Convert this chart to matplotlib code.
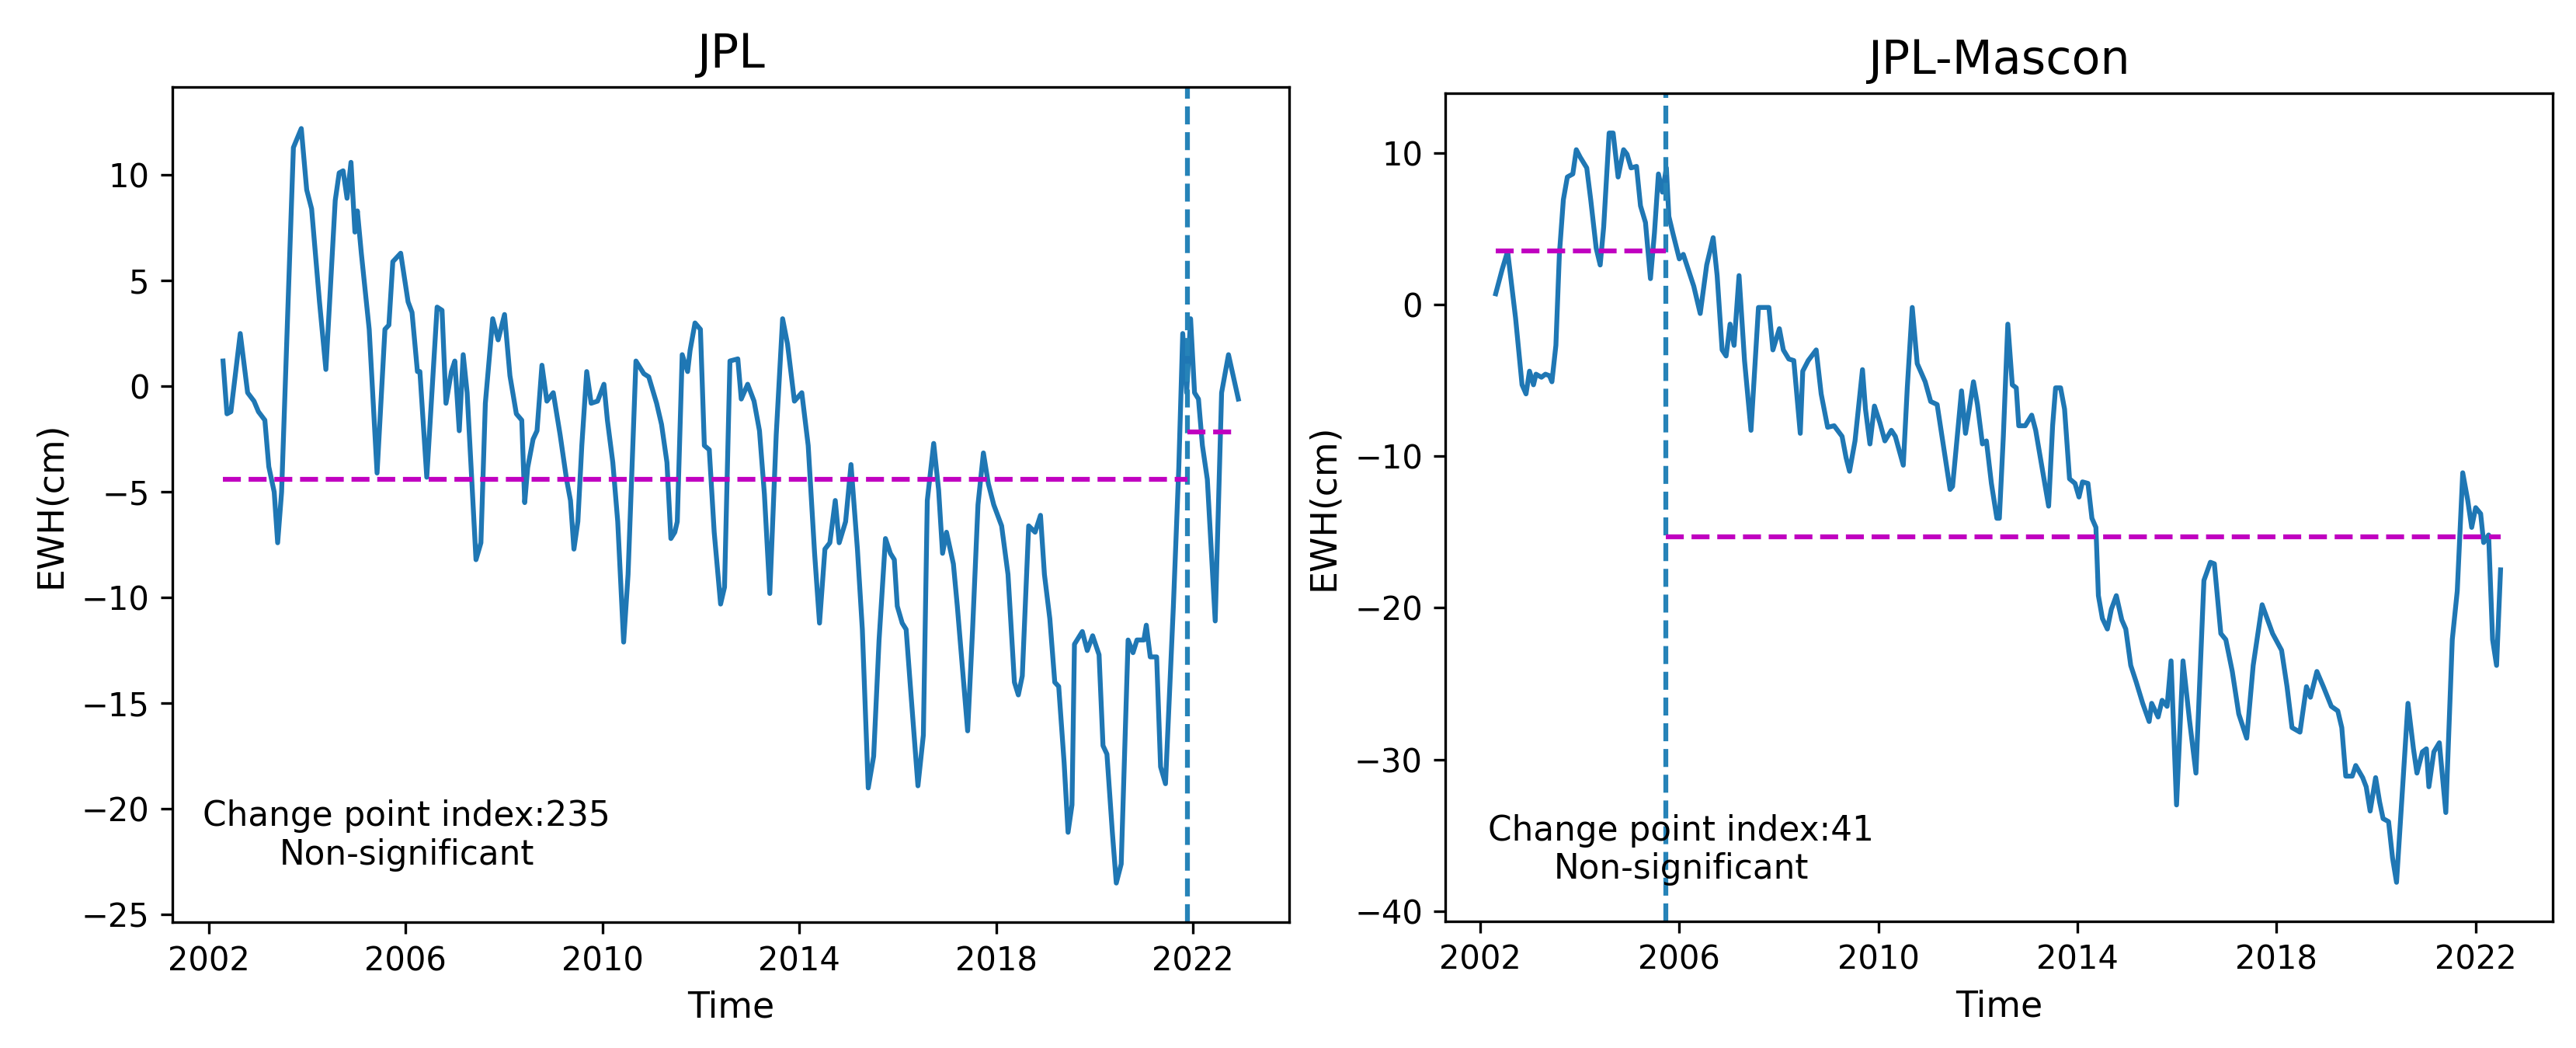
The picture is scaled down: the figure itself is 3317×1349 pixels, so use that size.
import matplotlib
matplotlib.use("Agg")
import matplotlib.pyplot as plt
import numpy as np

# ---------------- data: JPL (left panel) ----------------
jpl_time = [
    2002.29, 2002.37, 2002.45, 2002.64, 2002.79, 2002.92, 2003.01, 2003.14, 2003.22, 2003.33,
    2003.40, 2003.48, 2003.72, 2003.88, 2003.99, 2004.09, 2004.25, 2004.38, 2004.57, 2004.65,
    2004.73, 2004.81, 2004.89, 2004.97, 2005.02, 2005.10, 2005.26, 2005.42, 2005.58, 2005.66,
    2005.74, 2005.90, 2006.05, 2006.13, 2006.24, 2006.29, 2006.43, 2006.64, 2006.74, 2006.82,
    2006.93, 2007.00, 2007.09, 2007.17, 2007.25, 2007.32, 2007.43, 2007.53, 2007.62, 2007.77,
    2007.88, 2008.01, 2008.12, 2008.25, 2008.36, 2008.42, 2008.48, 2008.59, 2008.67, 2008.77,
    2008.87, 2009.00, 2009.14, 2009.27, 2009.35, 2009.42, 2009.50, 2009.58, 2009.68, 2009.77,
    2009.90, 2010.03, 2010.10, 2010.21, 2010.31, 2010.43, 2010.52, 2010.68, 2010.84, 2010.94,
    2011.10, 2011.20, 2011.31, 2011.39, 2011.47, 2011.52, 2011.62, 2011.73, 2011.78, 2011.88,
    2011.99, 2012.07, 2012.17, 2012.27, 2012.40, 2012.48, 2012.59, 2012.75, 2012.82, 2012.95,
    2013.08, 2013.19, 2013.29, 2013.40, 2013.53, 2013.66, 2013.76, 2013.90, 2014.05, 2014.18,
    2014.31, 2014.41, 2014.52, 2014.62, 2014.73, 2014.81, 2014.94, 2015.05, 2015.18, 2015.28,
    2015.40, 2015.51, 2015.62, 2015.75, 2015.85, 2015.93, 2015.99, 2016.09, 2016.17, 2016.25,
    2016.41, 2016.52, 2016.60, 2016.73, 2016.83, 2016.91, 2016.99, 2017.13, 2017.21, 2017.42,
    2017.52, 2017.63, 2017.74, 2017.84, 2017.95, 2018.11, 2018.24, 2018.37, 2018.45, 2018.53,
    2018.66, 2018.79, 2018.90, 2018.98, 2019.09, 2019.19, 2019.27, 2019.38, 2019.46, 2019.54,
    2019.59, 2019.75, 2019.85, 2019.96, 2020.09, 2020.17, 2020.25, 2020.36, 2020.44, 2020.54,
    2020.68, 2020.78, 2020.86, 2021.00, 2021.05, 2021.13, 2021.26, 2021.34, 2021.44, 2021.60,
    2021.71, 2021.79, 2021.87, 2021.95, 2022.03, 2022.11, 2022.19, 2022.29, 2022.45, 2022.58,
    2022.72, 2022.92,
]
jpl_ewh = [
    1.2, -1.3, -1.2, 2.5, -0.3, -0.7, -1.2, -1.6, -3.8, -5.0,
    -7.4, -5.0, 11.3, 12.2, 9.3, 8.4, 4.0, 0.8, 8.8, 10.1,
    10.2, 8.9, 10.6, 7.3, 8.3, 6.3, 2.7, -4.1, 2.7, 2.9,
    5.9, 6.3, 4.0, 3.5, 0.7, 0.7, -4.3, 3.75, 3.6, -0.8,
    0.7, 1.2, -2.1, 1.5, -0.3, -3.4, -8.2, -7.4, -0.8, 3.2,
    2.2, 3.4, 0.5, -1.3, -1.6, -5.5, -3.85, -2.5, -2.1, 1.0,
    -0.7, -0.3, -2.3, -4.4, -5.4, -7.7, -6.4, -2.8, 0.7, -0.8,
    -0.7, 0.1, -1.6, -3.6, -6.4, -12.1, -8.9, 1.2, 0.6, 0.45,
    -0.8, -1.8, -3.6, -7.2, -6.9, -6.4, 1.5, 0.7, 1.7, 3.0,
    2.7, -2.8, -3.0, -6.9, -10.3, -9.5, 1.2, 1.3, -0.6, 0.1,
    -0.7, -2.1, -5.1, -9.8, -2.3, 3.2, 2.0, -0.7, -0.3, -2.8,
    -7.9, -11.2, -7.7, -7.4, -5.4, -7.4, -6.4, -3.7, -7.7, -11.5,
    -19.0, -17.5, -12.0, -7.2, -7.9, -8.2, -10.4, -11.2, -11.5, -14.0,
    -18.9, -16.5, -5.4, -2.7, -4.9, -7.9, -6.9, -8.4, -10.4, -16.3,
    -11.5, -5.6, -3.15, -4.6, -5.6, -6.6, -8.9, -14.0, -14.6, -13.7,
    -6.6, -6.9, -6.1, -8.9, -11.0, -14.0, -14.2, -17.8, -21.1, -19.8,
    -12.2, -11.6, -12.5, -11.8, -12.7, -17.0, -17.4, -21.1, -23.5, -22.6,
    -12.0, -12.6, -12.0, -12.0, -11.3, -12.8, -12.8, -18.0, -18.8, -10.4,
    -3.85, 2.5, -0.3, 3.2, -0.3, -0.6, -2.8, -4.4, -11.1, -0.3,
    1.5, -0.6,
]
jpl_cp_time = 2021.88
jpl_mean_before = -4.4
jpl_mean_after = -2.15
jpl_text = "Change point index:235\nNon-significant"

# ---------------- data: JPL-Mascon (right panel) ----------------
mas_time = [
    2002.31, 2002.44, 2002.55, 2002.71, 2002.84, 2002.92, 2002.99, 2003.07, 2003.12, 2003.23,
    2003.31, 2003.39, 2003.44, 2003.52, 2003.59, 2003.67, 2003.75, 2003.86, 2003.93, 2004.01,
    2004.14, 2004.22, 2004.33, 2004.41, 2004.48, 2004.59, 2004.67, 2004.77, 2004.88, 2004.95,
    2005.03, 2005.14, 2005.22, 2005.32, 2005.42, 2005.50, 2005.58, 2005.66, 2005.74, 2005.79,
    2005.87, 2006.00, 2006.08, 2006.18, 2006.29, 2006.42, 2006.55, 2006.68, 2006.76, 2006.86,
    2006.94, 2007.02, 2007.10, 2007.20, 2007.31, 2007.44, 2007.59, 2007.73, 2007.80, 2007.88,
    2008.01, 2008.09, 2008.20, 2008.30, 2008.43, 2008.48, 2008.59, 2008.75, 2008.85, 2008.98,
    2009.11, 2009.27, 2009.35, 2009.42, 2009.53, 2009.68, 2009.74, 2009.83, 2009.92, 2010.03,
    2010.13, 2010.26, 2010.34, 2010.50, 2010.58, 2010.68, 2010.78, 2010.94, 2011.05, 2011.18,
    2011.31, 2011.44, 2011.49, 2011.67, 2011.75, 2011.91, 2011.99, 2012.09, 2012.17, 2012.27,
    2012.38, 2012.43, 2012.51, 2012.60, 2012.69, 2012.77, 2012.82, 2012.95, 2013.08, 2013.16,
    2013.29, 2013.42, 2013.50, 2013.56, 2013.66, 2013.74, 2013.84, 2013.95, 2014.03, 2014.10,
    2014.21, 2014.29, 2014.37, 2014.42, 2014.50, 2014.60, 2014.68, 2014.78, 2014.89, 2014.97,
    2015.07, 2015.18, 2015.31, 2015.44, 2015.49, 2015.62, 2015.70, 2015.80, 2015.88, 2015.99,
    2016.12, 2016.25, 2016.38, 2016.54, 2016.67, 2016.75, 2016.88, 2016.98, 2017.11, 2017.24,
    2017.40, 2017.53, 2017.71, 2017.82, 2017.92, 2018.10, 2018.21, 2018.31, 2018.47, 2018.60,
    2018.68, 2018.81, 2018.94, 2019.10, 2019.23, 2019.31, 2019.39, 2019.52, 2019.59, 2019.73,
    2019.80, 2019.88, 2019.99, 2020.07, 2020.14, 2020.25, 2020.33, 2020.41, 2020.51, 2020.64,
    2020.75, 2020.82, 2020.93, 2021.01, 2021.06, 2021.16, 2021.27, 2021.40, 2021.53, 2021.63,
    2021.74, 2021.84, 2021.92, 2022.00, 2022.10, 2022.16, 2022.26, 2022.34, 2022.42, 2022.50,
]
mas_ewh = [
    0.7, 2.3, 3.5, -0.9, -5.3, -5.9, -4.4, -5.3, -4.6, -4.8,
    -4.6, -4.7, -5.1, -2.7, 3.3, 6.9, 8.4, 8.6, 10.2, 9.7,
    9.0, 6.9, 3.7, 2.6, 5.1, 11.3, 11.3, 8.4, 10.2, 9.9,
    9.0, 9.1, 6.5, 5.4, 1.7, 4.7, 8.6, 7.4, 9.0, 5.8,
    4.7, 3.0, 3.3, 2.3, 1.2, -0.6, 2.6, 4.4, 1.9, -3.0,
    -3.4, -1.3, -2.7, 1.9, -3.7, -8.3, -0.2, -0.2, -0.2, -3.0,
    -1.6, -3.0, -3.6, -3.7, -8.5, -4.4, -3.7, -3.0, -5.9, -8.1,
    -8.0, -8.7, -10.1, -11.0, -9.0, -4.3, -6.9, -9.2, -6.7, -7.8,
    -9.0, -8.3, -8.7, -10.6, -5.5, -0.2, -3.9, -5.1, -6.4, -6.6,
    -9.4, -12.2, -12.0, -5.7, -8.5, -5.1, -6.6, -9.2, -9.0, -11.8,
    -14.1, -14.1, -8.7, -1.3, -5.3, -5.5, -8.0, -8.0, -7.3, -8.3,
    -10.8, -13.3, -8.0, -5.5, -5.5, -6.9, -11.5, -11.8, -12.7, -11.7,
    -11.8, -14.1, -14.7, -19.2, -20.7, -21.4, -20.1, -19.2, -20.8, -21.4,
    -23.8, -24.9, -26.3, -27.5, -26.3, -27.2, -26.1, -26.5, -23.5, -33.0,
    -23.5, -27.4, -30.9, -18.2, -17.0, -17.1, -21.7, -22.1, -24.2, -27.0,
    -28.6, -23.8, -19.8, -20.8, -21.7, -22.8, -25.2, -27.9, -28.2, -25.2,
    -25.9, -24.2, -25.2, -26.5, -26.8, -27.9, -31.1, -31.1, -30.4, -31.2,
    -31.8, -33.4, -31.2, -32.8, -33.9, -34.1, -36.5, -38.1, -33.0, -26.3,
    -29.3, -30.9, -29.5, -29.3, -31.8, -29.5, -28.9, -33.5, -22.1, -18.9,
    -11.1, -12.9, -14.7, -13.4, -13.8, -15.7, -15.2, -22.1, -23.8, -17.5,
]
mas_cp_time = 2005.73
mas_mean_before = 3.55
mas_mean_after = -15.3
mas_text = "Change point index:41\nNon-significant"

xticks = [2002, 2006, 2010, 2014, 2018, 2022]
jpl_yticks = [-25, -20, -15, -10, -5, 0, 5, 10]
mas_yticks = [-40, -30, -20, -10, 0, 10]

# ---------------- figure ----------------
plt.rcParams['font.family'] = ['DejaVu Sans']
fig = plt.figure(figsize=(3317 / 300, 1349 / 300), dpi=300)

line_color = '#1f77b4'
vline_color = '#2683b8'
mean_color = '#c000c0'


def draw(ax, t, v, cp, m1, m2, title, text, yticks, xlim, ylim, tx, ty):
    t = np.asarray(t)
    ax.plot(t, v, color=line_color, lw=1.5)
    ax.axvline(cp, color=vline_color, ls='--', lw=1.5)
    ax.hlines(m1, t[0], cp, colors=mean_color, linestyles='--', lw=1.5)
    ax.hlines(m2, cp, t[-1], colors=mean_color, linestyles='--', lw=1.5)
    ax.set_xlim(*xlim)
    ax.set_ylim(*ylim)
    ax.set_xticks(xticks)
    ax.set_xticklabels([str(x) for x in xticks])
    ax.set_yticks(yticks)
    ax.tick_params(labelsize=10)
    ax.set_title(title, fontsize=14.5)
    ax.set_xlabel('Time', fontsize=11)
    ax.set_ylabel('EWH(cm)', fontsize=11)
    ax.text(tx, ty, text, transform=ax.transAxes, ha='center', va='center',
            multialignment='center', fontsize=10.5)


ax1 = fig.add_axes([0.0669, 0.1201, 0.4335, 0.797])
draw(ax1, jpl_time, jpl_ewh, jpl_cp_time, jpl_mean_before, jpl_mean_after,
     'JPL', jpl_text, jpl_yticks, (2001.26, 2023.95), (-25.35, 14.17), 0.21, 0.104)

ax2 = fig.add_axes([0.5611, 0.1212, 0.4299, 0.7895])
draw(ax2, mas_time, mas_ewh, mas_cp_time, mas_mean_before, mas_mean_after,
     'JPL-Mascon', mas_text, mas_yticks, (2001.3, 2023.55), (-40.65, 13.9), 0.213, 0.086)

fig.savefig('out.png', dpi=300)
